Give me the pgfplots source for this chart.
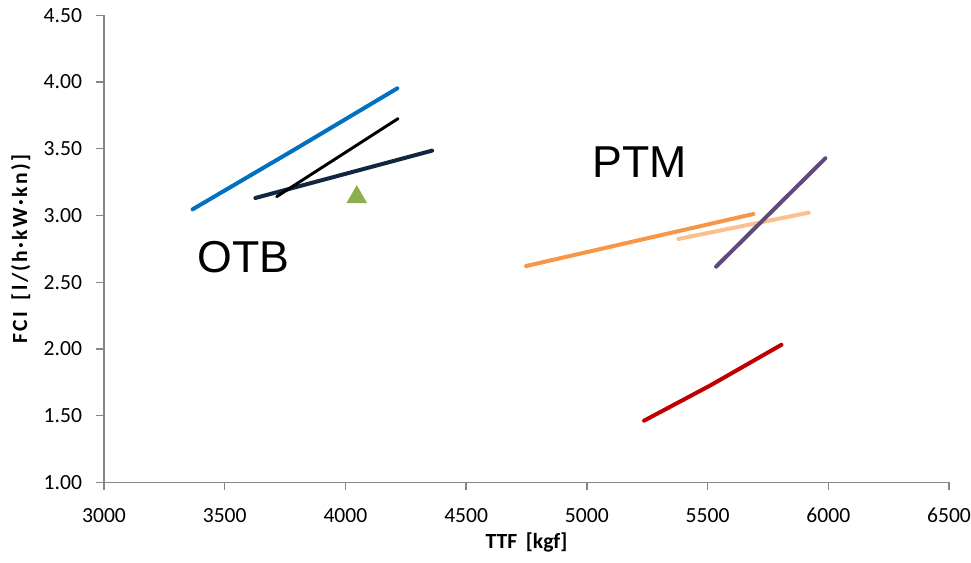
\documentclass[border=0pt]{standalone}
\usepackage{pgfplots}
\pgfplotsset{compat=1.18}
\usepackage{fontspec}
\setmainfont{Carlito}
\newfontfamily\arialf{Liberation Sans}
\definecolor{cblue}{HTML}{0070C0}
\definecolor{cnavy}{HTML}{112640}
\definecolor{cgreen}{HTML}{8FAF4F}
\definecolor{corange}{HTML}{F79646}
\definecolor{clorange}{HTML}{FAC090}
\definecolor{cpurple}{HTML}{604A7B}
\definecolor{cred}{HTML}{C00000}
\definecolor{caxis}{HTML}{868686}
\begin{document}
\begin{tikzpicture}
\begin{axis}[
  name=ax,
  scale only axis,
  width=633.75pt, height=350.25pt,
  xmin=3000, xmax=6500, ymin=1, ymax=4.5,
  xtick={3000,3500,...,6500},
  ytick={1,1.5,...,4.5},
  axis x line=bottom, axis y line=left,
  axis line style={caxis, line width=1pt, -},
  tick style={caxis, line width=1pt},
  tick align=outside,
  major tick length=6pt,
  x tick label style={/pgf/number format/1000 sep={}, yshift=-10pt},
  y tick label style={xshift=-7pt, /pgf/number format/fixed, /pgf/number format/fixed zerofill, /pgf/number format/precision=2},
  /pgf/number format/assume math mode=true,
  tick label style={font=\fontsize{16.2}{19}\selectfont, black},
  xlabel={\bfseries TTF\hspace{0.4em}[kgf]},
  ylabel={\bfseries\addfontfeature{LetterSpace=11}FCI\hspace{0.2em} [l/(h·kW·kn)]},
  label style={font=\fontsize{16.2}{19}\selectfont, black},
  ylabel style={yshift=3pt},
  clip=false,
]
\addplot[cblue, line width=3pt, line cap=round] coordinates {(3367,3.046) (3790,3.495) (4215,3.953)};
\addplot[cnavy, line width=3pt, line cap=round] coordinates {(3627,3.131) (4359,3.486)};
\addplot[black, line width=2.2pt, line cap=round] coordinates {(3715,3.141) (4218,3.726)};
\addplot[only marks, mark=triangle*, mark size=8.6pt, color=cgreen] coordinates {(4047,3.137)};
\addplot[corange, line width=3pt, line cap=round] coordinates {(4748,2.621) (5690,3.011)};
\addplot[clorange, line width=3pt, line cap=round] coordinates {(5379,2.824) (5919,3.021)};
\addplot[cpurple, line width=3pt, line cap=round] coordinates {(5535,2.616) (5988,3.429)};
\addplot[cred, line width=3pt, line cap=round] coordinates {(5237,1.462) (5510,1.725) (5806,2.031)};
\node[font=\arialf\fontsize{33.5}{36}\selectfont, inner sep=0pt] at (axis cs:3577,2.691) {OTB};
\node[font=\arialf\fontsize{33.5}{36}\selectfont, inner sep=0pt] at (axis cs:5219,3.400) {PTM};
\end{axis}
\pgfresetboundingbox
\path ([shift={(-78pt,-59.8pt)}]ax.south west) rectangle ([shift={(16.5pt,11.5pt)}]ax.north east);
\end{tikzpicture}
\end{document}
